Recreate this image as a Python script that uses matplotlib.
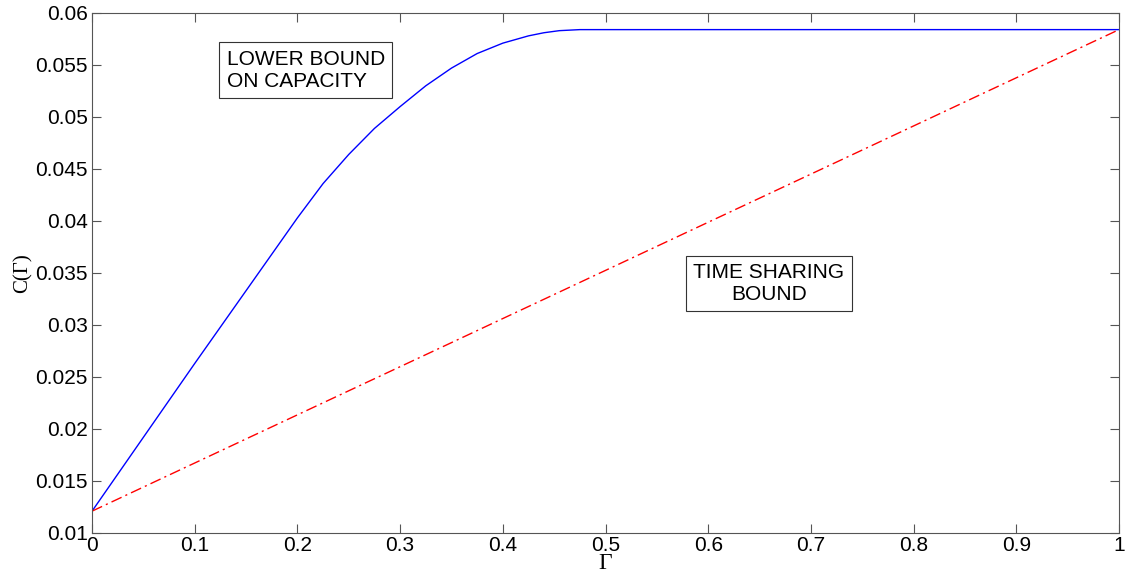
import matplotlib
matplotlib.use('Agg')
import matplotlib.pyplot as plt

plt.rcParams['font.family'] = ['Liberation Sans', 'DejaVu Sans']

# data
gamma_lb = [0.0, 0.05, 0.1, 0.15, 0.2, 0.225, 0.25, 0.275, 0.3, 0.325, 0.35,
            0.375, 0.4, 0.425, 0.44, 0.455, 0.475, 1.0]
cap_lb = [0.0121, 0.0192, 0.0263, 0.0333, 0.0403, 0.0436, 0.0464, 0.0489,
          0.0510, 0.0530, 0.0547, 0.0561, 0.0571, 0.0578, 0.0581, 0.0583, 0.0584, 0.0584]
gamma_ts = [0.0, 1.0]
cap_ts = [0.0121, 0.0584]
xticks = [0, 0.1, 0.2, 0.3, 0.4, 0.5, 0.6, 0.7, 0.8, 0.9, 1]
yticks = [0.01, 0.015, 0.02, 0.025, 0.03, 0.035, 0.04, 0.045, 0.05, 0.055, 0.06]

fig = plt.figure(figsize=(11.25, 5.82), dpi=100)
ax = fig.add_axes([0.0818, 0.0842, 0.9129, 0.8935])

ax.plot(gamma_lb, cap_lb, color='#0000ff', lw=1.0)
ax.plot(gamma_ts, cap_ts, color='#ff0000', lw=1.0, linestyle=(0, (8, 3, 1.5, 3)))

ax.set_xlim(0, 1)
ax.set_ylim(0.01, 0.06)
ax.set_xticks(xticks)
ax.set_xticklabels(['0', '0.1', '0.2', '0.3', '0.4', '0.5', '0.6', '0.7', '0.8', '0.9', '1'])
ax.set_yticks(yticks)
ax.set_yticklabels(['0.01', '0.015', '0.02', '0.025', '0.03', '0.035', '0.04',
                    '0.045', '0.05', '0.055', '0.06'])
ax.tick_params(direction='in', length=6.5, width=0.8, color='#555555',
               top=True, right=True, labelsize=15, pad=3)
ax.tick_params(axis='x', pad=2)
for s in ax.spines.values():
    s.set_color('#555555')
    s.set_linewidth(0.8)

ax.set_xlabel('Γ', family=['Liberation Serif', 'DejaVu Serif'], fontsize=17, labelpad=-1)
ax.set_ylabel('C(Γ)', family=['Liberation Serif', 'DejaVu Serif'], fontsize=15, labelpad=2)

box = dict(boxstyle='square,pad=0.35', facecolor='white', edgecolor='#333333', linewidth=0.8)
ax.text(0.131, 0.0545, 'LOWER BOUND\nON CAPACITY', fontsize=15, ha='left', va='center',
        linespacing=1.2, bbox=box)
ax.text(0.659, 0.034, 'TIME SHARING\nBOUND', fontsize=15, ha='center', va='center',
        linespacing=1.2, bbox=box)

fig.savefig('out.png', dpi=100, facecolor='white')
